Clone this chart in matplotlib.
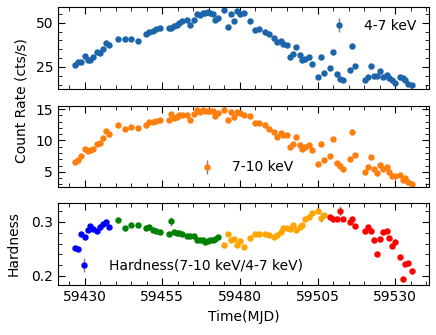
import numpy as np
import matplotlib
matplotlib.use('Agg')
import matplotlib.pyplot as plt
from matplotlib.ticker import MultipleLocator

# observation times (MJD)
mjd = [59427.0, 59428.0, 59428.9, 59430.0, 59431.0, 59431.8, 59432.7, 59434.0,
       59435.0, 59435.9, 59436.9, 59437.7, 59440.8, 59443.0, 59445.0, 59447.1,
       59449.9, 59450.8, 59451.9, 59452.9, 59454.1, 59457.0, 59457.9, 59458.8,
       59459.6, 59460.5, 59461.3, 59463.1, 59464.0, 59465.1, 59466.2, 59467.0,
       59468.0, 59468.8, 59469.6, 59470.4, 59471.3, 59472.1, 59472.9, 59475.0,
       59476.1, 59477.1, 59478.2, 59479.1, 59480.1, 59481.2, 59483.1, 59484.9,
       59486.0, 59488.1, 59489.2, 59491.0, 59492.0, 59493.1, 59494.0, 59495.1,
       59496.2, 59497.2, 59498.2, 59499.2, 59500.1, 59501.0, 59502.1, 59503.2,
       59505.1, 59506.2, 59507.1, 59509.1, 59510.1, 59511.2, 59512.3, 59513.3,
       59515.3, 59516.2, 59517.2, 59520.3, 59521.2, 59522.2, 59523.1, 59524.2,
       59525.1, 59526.2, 59527.3, 59528.1, 59529.0, 59530.1, 59531.4, 59532.4,
       59533.3, 59534.2, 59535.3]

# 4-7 keV count rate
rate_soft = [26.2, 27.9, 28.0, 31.4, 28.8, 29.2, 30.9, 33.7, 33.1, 35.1, 38.3, 37.5,
             40.9, 40.5, 40.5, 39.9, 43.8, 44.5, 45.2, 46.2, 47.2, 47.2, 46.8, 47.9,
             48.9, 49.8, 50.7, 51.7, 48.5, 51.7, 54.9, 54.4, 55.5, 55.5, 55.9, 55.5,
             54.9, 51.3, 52.4, 57.2, 47.6, 54.6, 51.1, 56.3, 54.6, 55.3, 51.1, 45.6,
             46.2, 44.9, 43.4, 41.5, 38.8, 39.9, 37.7, 37.5, 30.9, 32.2, 36.5, 31.8,
             29.0, 29.5, 30.5, 26.7, 19.1, 30.9, 21.8, 24.3, 33.7, 20.8, 18.4, 17.4,
             23.1, 36.9, 25.7, 17.4, 19.5, 25.7, 19.9, 19.9, 22.7, 19.5, 20.5, 18.9,
             17.6, 16.1, 19.1, 18.9, 17.6, 15.3, 14.8]

# 7-10 keV count rate
rate_hard = [6.5, 6.9, 7.6, 8.6, 8.3, 8.5, 8.7, 9.5, 9.6, 10.4, 11.5, 11.0,
             12.5, 11.8, 12.1, 11.9, 12.5, 12.9, 12.9, 13.1, 13.3, 13.2, 14.2, 13.6,
             13.8, 14.0, 14.1, 14.1, 13.3, 14.2, 14.8, 14.6, 14.8, 14.7, 14.7, 14.7,
             14.7, 13.9, 14.4, 14.8, 13.3, 14.6, 13.8, 14.5, 14.4, 14.1, 13.9, 12.8,
             12.8, 12.5, 11.8, 11.4, 10.6, 11.2, 10.9, 10.9, 8.9, 9.4, 10.5, 9.3,
             8.7, 9.0, 9.3, 8.5, 6.2, 9.5, 6.9, 7.6, 10.3, 6.4, 5.95, 5.4,
             7.0, 11.4, 7.7, 5.0, 5.8, 7.4, 5.4, 4.8, 6.1, 5.5, 5.85, 5.05,
             4.4, 4.3, 4.5, 3.7, 4.0, 3.4, 3.0]

# hardness ratio (7-10 keV / 4-7 keV)
hardness = [0.252, 0.249, 0.277, 0.272, 0.285, 0.293, 0.286, 0.284, 0.291, 0.296, 0.299, 0.291,
            0.304, 0.288, 0.295, 0.294, 0.288, 0.290, 0.285, 0.283, 0.281, 0.278, 0.301, 0.281,
            0.279, 0.280, 0.278, 0.273, 0.274, 0.273, 0.267, 0.267, 0.266, 0.262, 0.264, 0.266,
            0.267, 0.269, 0.272, 0.258, 0.277, 0.267, 0.269, 0.257, 0.264, 0.253, 0.270, 0.278,
            0.277, 0.278, 0.275, 0.272, 0.275, 0.281, 0.288, 0.288, 0.286, 0.295, 0.285, 0.290,
            0.295, 0.306, 0.310, 0.317, 0.320, 0.308, 0.312, 0.309, 0.306, 0.305, 0.320, 0.306,
            0.299, 0.306, 0.293, 0.283, 0.291, 0.284, 0.267, 0.241, 0.268, 0.281, 0.284, 0.270,
            0.256, 0.263, 0.235, 0.194, 0.222, 0.224, 0.209]

xticks = [59430, 59455, 59480, 59505, 59530]

# errors (mostly hidden behind the markers)
soft_err = np.full(len(mjd), 0.8)
hard_err = np.full(len(mjd), 0.3)
hr_err = np.full(len(mjd), 0.003)
hr_err[[22, 65, 70]] = 0.009

# hardness colour groups (index boundaries)
groups = [(0, 12, 'blue'), (12, 39, 'green'), (39, 67, 'orange'), (67, len(mjd), 'red')]

mjd = np.array(mjd)
hardness = np.array(hardness)

fig = plt.figure(figsize=(4.36, 3.35), dpi=100)
ax1 = fig.add_axes([0.133, 0.734, 0.851, 0.246])
ax2 = fig.add_axes([0.133, 0.442, 0.851, 0.242], sharex=ax1)
ax3 = fig.add_axes([0.133, 0.149, 0.851, 0.245], sharex=ax1)

ms = 3.6
ax1.errorbar(mjd, rate_soft, yerr=soft_err, fmt='o', ms=ms, color='#1c65aa',
             ecolor='gray', elinewidth=1, label='4-7 keV')
ax2.errorbar(mjd, rate_hard, yerr=hard_err, fmt='o', ms=ms, color='#ff7f0e',
             ecolor='gray', elinewidth=1, label='7-10 keV')
for i, (a, b, c) in enumerate(groups):
    ax3.errorbar(mjd[a:b], hardness[a:b], yerr=hr_err[a:b], fmt='o', ms=ms, color=c,
                 ecolor='gray', elinewidth=1,
                 label='Hardness(7-10 keV/4-7 keV)' if i == 0 else None)

ax1.set_xlim(59421.4, 59540.9)
ax1.set_ylim(12.5, 59)
ax2.set_ylim(2.6, 15.5)
ax3.set_ylim(0.183, 0.335)

ax1.yaxis.set_major_locator(MultipleLocator(25))
ax1.yaxis.set_minor_locator(MultipleLocator(5))
ax2.yaxis.set_major_locator(MultipleLocator(5))
ax2.yaxis.set_minor_locator(MultipleLocator(1))
ax3.yaxis.set_major_locator(MultipleLocator(0.1))
ax3.yaxis.set_minor_locator(MultipleLocator(0.02))
ax3.set_xticks(xticks)
ax3.xaxis.set_minor_locator(MultipleLocator(5))

for ax in (ax1, ax2, ax3):
    ax.tick_params(which='both', direction='in', top=True, right=True, labelsize=10)
    ax.tick_params(which='major', length=5)
    ax.tick_params(which='minor', length=3)
ax1.tick_params(labelbottom=False)
ax2.tick_params(labelbottom=False)

ax1.legend(loc='upper right', frameon=False, fontsize=10)
ax2.legend(loc='lower center', frameon=False, fontsize=10)
ax3.legend(loc='lower left', frameon=False, fontsize=10)

ax3.set_xlabel('Time(MJD)', fontsize=10)
ax3.set_ylabel('Hardness', fontsize=10)
fig.text(0.05, 0.70, 'Count Rate (cts/s)', rotation=90, ha='center', va='center', fontsize=10)
ax3.yaxis.set_label_coords(-0.10, 0.5)

fig.savefig('out.png', dpi=100)
